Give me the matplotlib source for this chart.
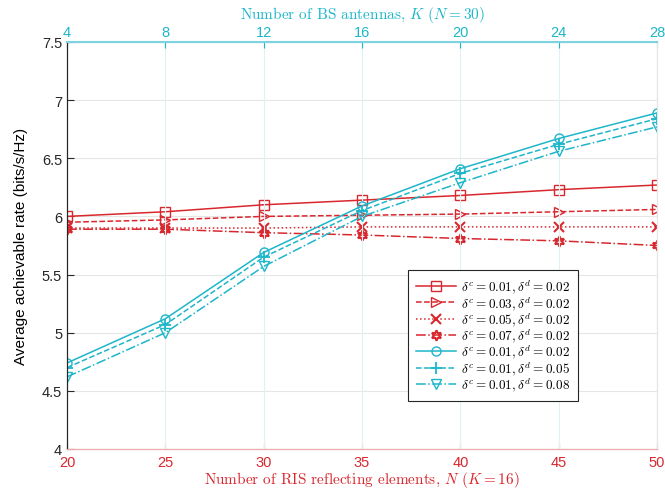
import matplotlib.pyplot as plt
import numpy as np

plt.rcParams['mathtext.fontset'] = 'cm'
plt.rcParams['font.family'] = ['Liberation Sans', 'DejaVu Sans']

# data
N = [20, 25, 30, 35, 40, 45, 50]
K = [4, 8, 12, 16, 20, 24, 28]

rate_c01_d02 = [6.00, 6.04, 6.10, 6.14, 6.18, 6.23, 6.27]
rate_c03_d02 = [5.95, 5.97, 6.00, 6.01, 6.02, 6.04, 6.06]
rate_c05_d02 = [5.90, 5.90, 5.90, 5.91, 5.91, 5.91, 5.91]
rate_c07_d02 = [5.89, 5.89, 5.86, 5.84, 5.81, 5.79, 5.75]

rateK_c01_d02 = [4.74, 5.12, 5.69, 6.09, 6.41, 6.67, 6.89]
rateK_c01_d05 = [4.70, 5.07, 5.65, 6.05, 6.37, 6.62, 6.84]
rateK_c01_d08 = [4.62, 5.00, 5.57, 6.00, 6.29, 6.56, 6.77]

labels = [r'$\delta^c=0.01,\delta^d=0.02$',
          r'$\delta^c=0.03,\delta^d=0.02$',
          r'$\delta^c=0.05,\delta^d=0.02$',
          r'$\delta^c=0.07,\delta^d=0.02$',
          r'$\delta^c=0.01,\delta^d=0.02$',
          r'$\delta^c=0.01,\delta^d=0.05$',
          r'$\delta^c=0.01,\delta^d=0.08$']

red = '#d9272e'
cyan = '#1db6ca'

fig = plt.figure(figsize=(6.65, 4.89), dpi=100)
ax = fig.add_axes([0.1008, 0.0798, 0.8872, 0.8323])
ax2 = ax.twiny()

lw = 1.1
ms = 6.5
l1, = ax.plot(N, rate_c01_d02, '-', color=red, marker='s', mfc='none', ms=ms, lw=lw)
l2, = ax.plot(N, rate_c03_d02, '--', color=red, marker='>', mfc='none', ms=ms, lw=lw)
l3, = ax.plot(N, rate_c05_d02, ':', color=red, marker='x', ms=ms, lw=lw, mew=1.5)
l4, = ax.plot(N, rate_c07_d02, '-.', color=red, marker=(6, 1, 0), mfc='none', ms=ms + 1, lw=lw, mew=1.5)

l5, = ax2.plot(K, rateK_c01_d02, '-', color=cyan, marker='o', mfc='none', ms=ms, lw=lw)
l6, = ax2.plot(K, rateK_c01_d05, '--', color=cyan, marker='+', ms=ms + 2, lw=lw, mew=1.3)
l7, = ax2.plot(K, rateK_c01_d08, '-.', color=cyan, marker='v', mfc='none', ms=ms, lw=lw)

ax.set_xlim(20, 50)
ax.set_ylim(4, 7.5)
ax.set_xticks(N)
ax.set_yticks(np.arange(4, 7.51, 0.5))
ax.set_yticklabels(['4', '4.5', '5', '5.5', '6', '6.5', '7', '7.5'])
ax2.set_xlim(4, 28)
ax2.set_xticks(K)

ax.grid(axis='y', color='#e6e6e6', lw=0.8)
ax2.grid(axis='x', color='#dff1f4', lw=0.8)
ax.set_axisbelow(True)

ax.tick_params(axis='y', direction='in', colors='#262626', labelsize=10.5, length=5)
ax.tick_params(axis='x', direction='in', colors=red, labelsize=10.5, length=4, pad=4)
ax2.tick_params(axis='x', direction='in', colors=cyan, labelsize=10.5, length=4, pad=2)

for a in (ax, ax2):
    a.spines['right'].set_color('#e6e6e6')
    a.spines['left'].set_color('#262626')
    a.spines['bottom'].set_color('#f0a8aa')
    a.spines['top'].set_color('#7fd3de')
ax2.spines['top'].set_linewidth(1.5)

ax.set_ylabel('Average achievable rate (bits/s/Hz)', fontsize=11, color='k', labelpad=10)
ax.set_xlabel(r'Number of RIS reflecting elements, $N$ $(K=16)$', fontsize=11,
              color=red, family='cmr10', labelpad=0)
ax2.set_xlabel(r'Number of BS antennas, $K$ $(N=30)$', fontsize=11,
               color=cyan, family='cmr10', labelpad=5)

leg = ax2.legend([l1, l2, l3, l4, l5, l6, l7], labels, loc='lower right',
                 bbox_to_anchor=(0.866, 0.118), fontsize=9.5, fancybox=False,
                 edgecolor='#262626', framealpha=1, handlelength=3.0,
                 labelspacing=-0.1, borderpad=0.6, handletextpad=0.4,
                 borderaxespad=0)
leg.get_frame().set_linewidth(0.8)

plt.savefig('out.png', dpi=100)
